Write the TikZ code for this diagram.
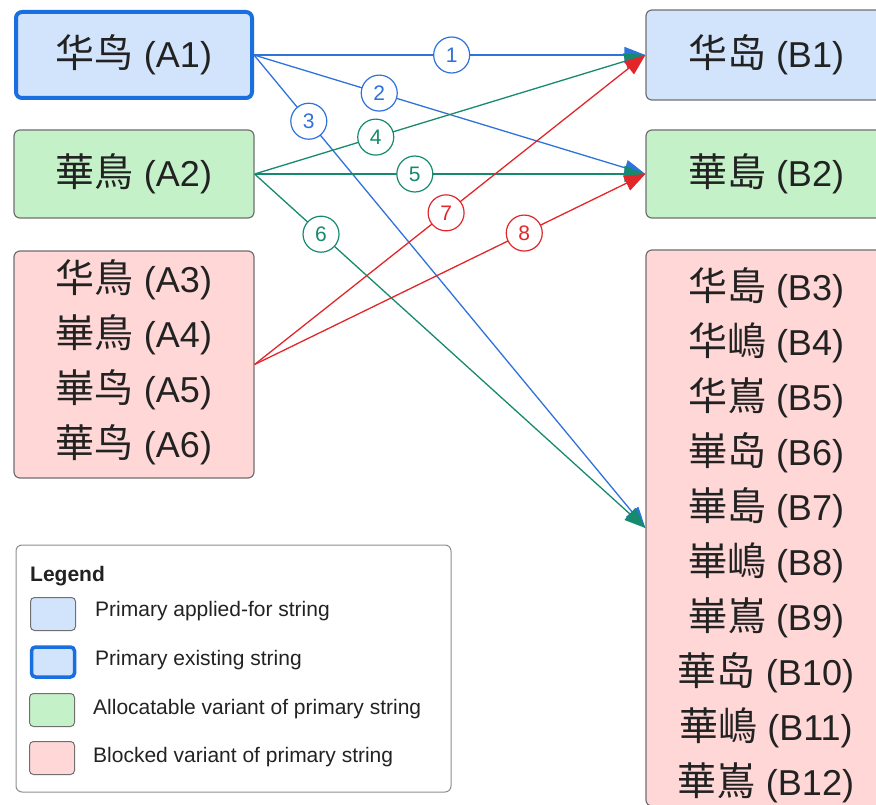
\documentclass[tikz,border=0pt]{standalone}
\usepackage{fontspec}
\setmainfont{Liberation Sans}
\newfontfamily\cjk{Noto Sans CJK SC}
\newcommand\zh[1]{{\cjk\fontsize{39}{55}\selectfont #1}}
\usetikzlibrary{arrows.meta}
\definecolor{bfill}{HTML}{D2E3FC}
\definecolor{gfill}{HTML}{C5F1C9}
\definecolor{rfill}{HTML}{FFD7D7}
\definecolor{bord}{HTML}{707070}
\definecolor{eblue}{HTML}{2F72DC}
\definecolor{egreen}{HTML}{168A6E}
\definecolor{ered}{HTML}{E2262A}
\definecolor{thickb}{HTML}{1A6FE0}
\definecolor{txt}{HTML}{222222}
\begin{document}
\begin{tikzpicture}[x=1pt,y=-1pt,
  box/.style={draw=bord, line width=1.2pt, rounded corners=6pt, minimum width=240pt,
    text=txt, font=\fontsize{36}{55}\selectfont, inner sep=0pt, align=center},
  txtblock/.style={text=txt, font=\fontsize{36}{55}\selectfont, inner sep=0pt, align=center},
  circ/.style={circle, fill=white, line width=1.2pt, minimum size=36pt, inner sep=0pt,
    font=\fontsize{21}{22}\selectfont},
  edge/.style={line width=1.3pt, -{Triangle[length=21pt,width=16pt]}},
  swatch/.style={draw=bord, line width=1pt, rounded corners=4pt, minimum width=45pt, minimum height=33pt, inner sep=0pt},
  legtext/.style={anchor=west, text=txt, font=\fontsize{21}{23}\selectfont, inner sep=0pt}
]
\useasboundingbox (0,0) rectangle (876,805);
\clip (0,0) rectangle (876,805);

% left boxes
\node[box, fill=bfill, draw=thickb, line width=4pt, minimum height=86pt, minimum width=236pt] (A1) at (134,55) {\zh{华鸟} (A1)};
\node[box, fill=gfill, minimum height=88pt] (A2) at (134,174) {\zh{華鳥} (A2)};
\node[box, fill=rfill, minimum height=227pt] (A3) at (134,364.5) {};
\node[txtblock] (A3t) at (134,362) {\zh{华鳥} (A3)\\\zh{崋鳥} (A4)\\\zh{崋鸟} (A5)\\\zh{華鸟} (A6)};

% right boxes
\node[box, fill=bfill, minimum height=90pt] (B1) at (766,55) {\zh{华岛} (B1)};
\node[box, fill=gfill, minimum height=88pt] (B2) at (766,174) {\zh{華島} (B2)};
\node[box, fill=rfill, minimum height=556pt] (B3) at (766,528) {};
\node[txtblock] (B3t) at (766,535) {\zh{华島} (B3)\\\zh{华嶋} (B4)\\\zh{华嶌} (B5)\\\zh{崋岛} (B6)\\\zh{崋島} (B7)\\\zh{崋嶋} (B8)\\\zh{崋嶌} (B9)\\\zh{華岛} (B10)\\\zh{華嶋} (B11)\\\zh{華嶌} (B12)};

% edges
\draw[edge, eblue] (A1.east) -- (B1.west) node[pos=0.505, circ, draw=eblue, text=eblue] (L1) {1};
\draw[edge, eblue] (A1.east) -- (B2.west) node[pos=0.32, circ, draw=eblue, text=eblue] (L2) {2};
\draw[edge, eblue] (A1.east) -- (B3.west) node[pos=0.14, circ, draw=eblue, text=eblue] (L3) {3};
\draw[edge, egreen] (A2.east) -- (B1.west) node[pos=0.31, circ, draw=egreen, text=egreen] (L4) {4};
\draw[edge, egreen] (A2.east) -- (B2.west) node[pos=0.41, circ, draw=egreen, text=egreen] (L5) {5};
\draw[edge, egreen] (A2.east) -- (B3.west) node[pos=0.17, circ, draw=egreen, text=egreen] (L6) {6};
\draw[edge, ered] (A3.east) -- (B1.west) node[pos=0.49, circ, draw=ered, text=ered] (L7) {7};
\draw[edge, ered] (A3.east) -- (B2.west) node[pos=0.69, circ, draw=ered, text=ered] (L8) {8};

% legend
\node[draw=bord!80, line width=1pt, rounded corners=6pt, minimum width=435pt, minimum height=247pt, inner sep=0pt] (leg) at (233.5,668.5) {};
\node[anchor=west, text=txt, font=\bfseries\fontsize{21}{23}\selectfont, inner sep=0pt] (legt) at (30,576) {Legend};
\node[swatch, fill=bfill] (s1) at (53,614) {};
\node[swatch, fill=bfill, draw=thickb, line width=3.5pt, minimum width=43pt, minimum height=30pt] (s2) at (53,662) {};
\node[swatch, fill=gfill] (s3) at (52,710) {};
\node[swatch, fill=rfill] (s4) at (52,758) {};
\node[legtext] (t1) at (95,611) {Primary applied-for string};
\node[legtext] (t2) at (95,660) {Primary existing string};
\node[legtext] (t3) at (93,709) {Allocatable variant of primary string};
\node[legtext] (t4) at (93,757) {Blocked variant of primary string};
\end{tikzpicture}
\end{document}
